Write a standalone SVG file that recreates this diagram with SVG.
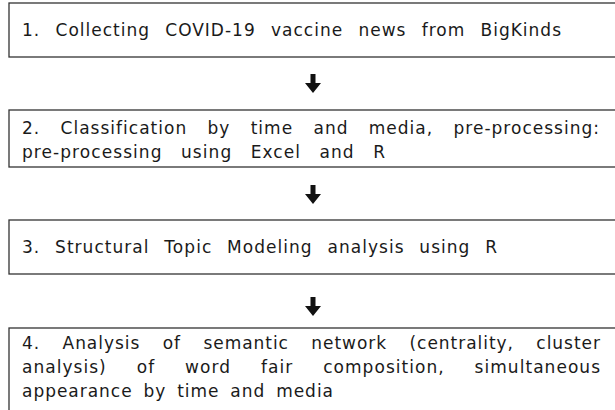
<svg xmlns="http://www.w3.org/2000/svg" width="615" height="410" viewBox="0 0 615 410">
<style>
.box{fill:#fff;stroke:#333;stroke-width:1.3}
text{font-family:"DejaVu Sans","Noto Sans",sans-serif;font-size:17px;fill:#1a1a1a;letter-spacing:1px}
.arr{fill:#111}
</style>
<defs>
<path id="dn" d="M-2.5,0 H2.5 V9 H8 L0,19 L-8,9 H-2.5 Z"/>
</defs>
<rect width="615" height="410" fill="#fff"/>
<g id="n1">
<rect class="box" x="9" y="3" width="620" height="54"/>
<text x="22" y="36" style="word-spacing:8.9px" textLength="540" lengthAdjust="spacing">1. Collecting COVID-19 vaccine news from BigKinds</text>
</g>
<g id="n2">
<rect class="box" x="9" y="110" width="620" height="57"/>
<text x="22" y="134" style="word-spacing:13.9px" textLength="578" lengthAdjust="spacing">2. Classification by time and media, pre-processing:</text>
<text x="22" y="158" style="word-spacing:12px" textLength="364" lengthAdjust="spacing">pre-processing using Excel and R</text>
</g>
<g id="n3">
<rect class="box" x="9" y="220" width="620" height="54"/>
<text x="22" y="253" style="word-spacing:8.3px" textLength="476" lengthAdjust="spacing">3. Structural Topic Modeling analysis using R</text>
</g>
<g id="n4">
<rect class="box" x="9" y="328" width="620" height="100"/>
<text x="22" y="349" style="word-spacing:16px" textLength="579" lengthAdjust="spacing">4. Analysis of semantic network (centrality, cluster</text>
<text x="22" y="373" style="word-spacing:23.5px" textLength="579" lengthAdjust="spacing">analysis) of word fair composition, simultaneous</text>
<text x="22" y="397" style="word-spacing:4.5px" textLength="312" lengthAdjust="spacing">appearance by time and media</text>
</g>
<g id="connectors" class="arr">
<use href="#dn" x="313" y="74"/>
<use href="#dn" x="313" y="185"/>
<use href="#dn" x="313" y="297"/>
</g>
</svg>
